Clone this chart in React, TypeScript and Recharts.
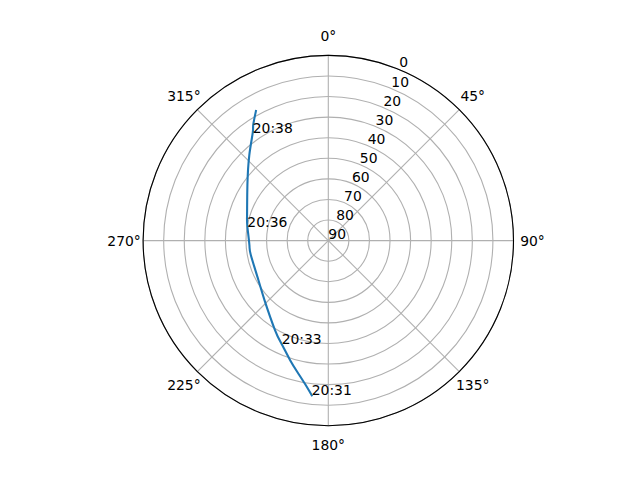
import React from 'react';
import { RadarChart, PolarGrid, PolarAngleAxis, PolarRadiusAxis, Radar, Curve } from 'recharts';

// Satellite pass: azimuth (deg, clockwise from north) and elevation (deg)
const AZIMUTH = [186.1, 189.2, 192.9, 197.8, 204.3, 210.8, 227.0, 240.6, 259.5, 266.8, 279.7, 287.5, 304.5, 317.3, 325.0, 327.0, 330.8];
const ELEVATION = [14.4, 19.4, 24.0, 29.1, 34.9, 39.4, 47.6, 51.0, 51.7, 51.6, 50.1, 48.6, 42.3, 33.4, 26.0, 23.0, 17.9];
const TIME_LABELS = ['20:31', '', '', '', '20:33', '', '', '', '', '', '20:36', '', '', '', '20:38', '', ''];

const ANGLE_TICKS = [0, 45, 90, 135, 180, 225, 270, 315];
const RADIUS_TICKS = [0, 10, 20, 30, 40, 50, 60, 70, 80, 90];

const rows = AZIMUTH.map((az, i) => ({
  az,
  zen: 90 - ELEVATION[i],
  label: TIME_LABELS[i],
}));

const FONT = 'DejaVu Sans, sans-serif';
const FS = 13.9;

const renderAngleTick = (props: any) => {
  const { x, y, payload } = props;
  return (
    <text x={x} y={y} textAnchor="middle" dominantBaseline="central" fontFamily={FONT} fontSize={FS} fill="#000">
      {`${payload.value}°`}
    </text>
  );
};

const renderRadiusTick = (props: any) => {
  const { x, y, payload } = props;
  return (
    <text x={x} y={y - 2} textAnchor="start" fontFamily={FONT} fontSize={FS} fill="#000">
      {`${90 - payload.value}`}
    </text>
  );
};

const renderTrack = (props: any) => {
  const pts: any[] = props.points || [];
  return (
    <g>
      <Curve
        type="natural"
        points={pts.map((p) => ({ x: p.x, y: p.y }))}
        fill="none"
        stroke="#1f77b4"
        strokeWidth={2.1}
        strokeLinejoin="round"
        strokeLinecap="square"
      />
      {pts.map((p, i) =>
        p.payload && p.payload.label ? (
          <text key={i} x={p.x} y={p.y} textAnchor="start" fontFamily={FONT} fontSize={FS} fill="#000">
            {p.payload.label}
          </text>
        ) : null,
      )}
    </g>
  );
};

export default function App() {
  return (
    <div style={{ width: 640, height: 480, background: '#fff' }}>
      <RadarChart
        width={640}
        height={480}
        cx={320.3}
        cy={232.6}
        innerRadius={0}
        outerRadius={185.2}
        startAngle={90}
        endAngle={-270}
        data={rows}
        margin={{ top: 0, right: 0, bottom: 0, left: 0 }}
      >
        <PolarGrid gridType="circle" stroke="#b0b0b0" strokeWidth={1.1} />
        <PolarAngleAxis
          dataKey="az"
          type="number"
          domain={[0, 360]}
          ticks={ANGLE_TICKS}
          tick={renderAngleTick}
          tickLine={false}
          tickSize={19}
          axisLine={{ stroke: '#000', strokeWidth: 1.1 }}
          axisLineType="circle"
        />
        <PolarRadiusAxis
          angle={67.5}
          type="number"
          domain={[0, 90]}
          ticks={RADIUS_TICKS}
          tick={renderRadiusTick}
          axisLine={false}
          tickLine={false}
        />
        <Radar dataKey="zen" isAnimationActive={false} shape={renderTrack} />
      </RadarChart>
    </div>
  );
}
